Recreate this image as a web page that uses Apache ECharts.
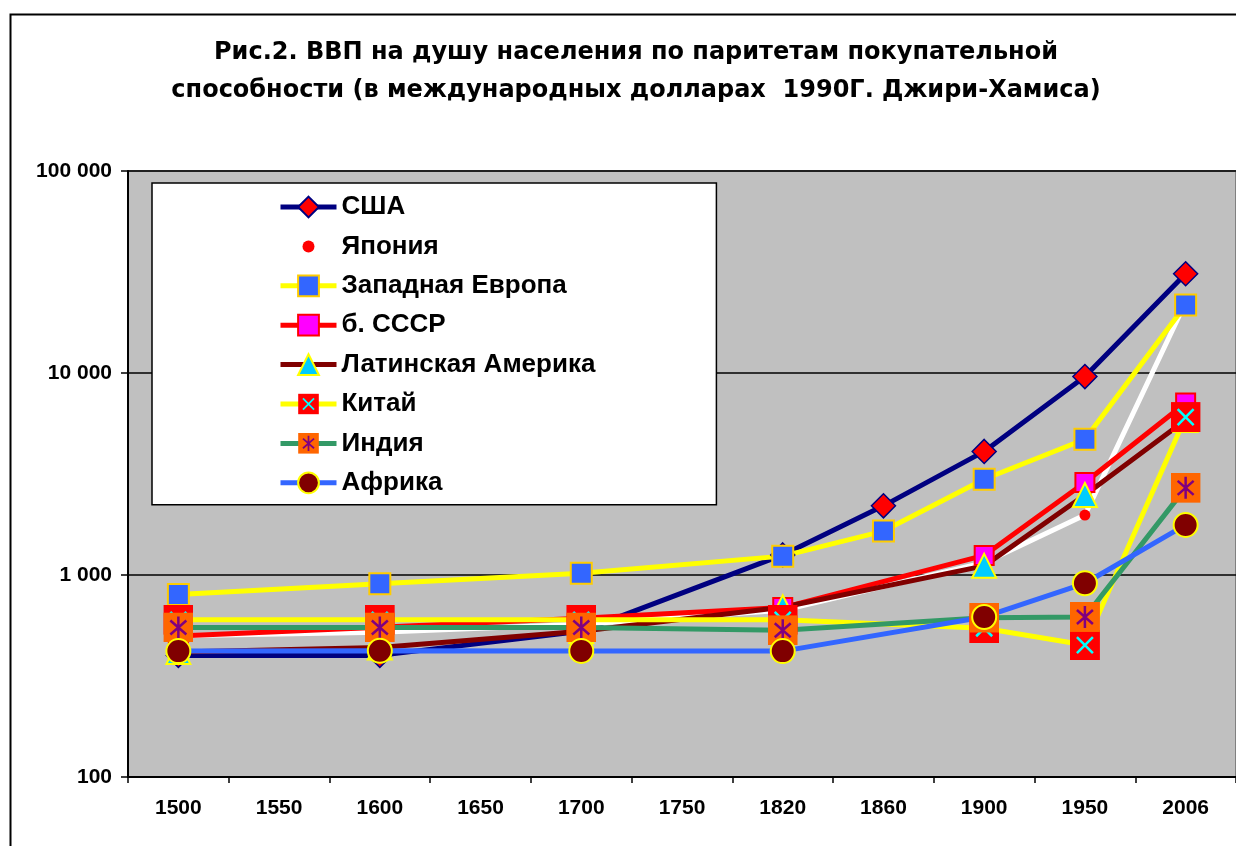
<!DOCTYPE html>
<html>
<head>
<meta charset="utf-8">
<script src="https://cdn.jsdelivr.net/npm/echarts@6/dist/echarts.min.js"></script>
<style>
    html, body {margin: 0; padding: 0; background: #fff;}
    #chart {width: 1236px; height: 846px;}
</style>
</head>
<body>
<div id="chart"></div>
<script>
// годы (1550, 1650, 1750 - без данных, 1860 - только США и Зап. Европа)
let years = ['1500', '1550', '1600', '1650', '1700', '1750', '1820', '1860', '1900', '1950', '2006'];
let usa = [400, null, 400, null, 527, null, 1257, 2200, 4091, 9600, 31000];
let japan = [500, null, 520, null, 570, null, 669, null, 1150, 1980, 22400];
let westEurope = [800, null, 905, null, 1020, null, 1240, 1650, 2980, 4700, 21700];
let ussr = [499, null, 552, null, 610, null, 690, null, 1250, 2870, 7100];
let latinAmerica = [416, null, 438, null, 527, null, 692, null, 1110, 2490, 5850];
let china = [600, null, 600, null, 600, null, 600, null, 545, 450, 6050];
let india = [550, null, 550, null, 550, null, 533, null, 615, 620, 2700];
let africa = [420, null, 422, null, 421, null, 420, null, 620, 910, 1770];

let names = ['США', 'Япония', 'Западная Европа', 'б. СССР', 'Латинская Америка', 'Китай', 'Индия', 'Африка'];

function svgIcon(svg) {
    return 'image://data:image/svg+xml;charset=utf-8,' + encodeURIComponent(svg);
}
let chinaIcon = svgIcon('<svg xmlns="http://www.w3.org/2000/svg" width="30" height="30" viewBox="0 0 30 30">' +
    '<rect x="0" y="0" width="30" height="30" fill="#FF0000"/>' +
    '<path d="M7 7 L23 23 M23 7 L7 23" stroke="#00FFFF" stroke-width="2.5"/></svg>');
let indiaIcon = svgIcon('<svg xmlns="http://www.w3.org/2000/svg" width="30" height="30" viewBox="0 0 30 30">' +
    '<rect x="0" y="0" width="30" height="30" fill="#FF6600"/>' +
    '<path d="M15 4 L15 26 M7 8 L23 22 M23 8 L7 22" stroke="#800080" stroke-width="2.5"/></svg>');

function ser(name, data, lineColor, symbol, size, fill, border, bw) {
    return {
        name: name, type: 'line', data: data, connectNulls: true,
        symbol: symbol, symbolSize: size, showAllSymbol: true,
        lineStyle: {color: lineColor, width: 5},
        itemStyle: {color: fill, borderColor: border, borderWidth: bw},
        emphasis: {disabled: true},
        animation: false
    };
}

let series = [
    ser(names[0], usa, '#000080', 'diamond', 24, '#FF0000', '#000080', 1.5),
    ser(names[1], japan, '#FFFFFF', 'circle', 11, '#FF0000', '#FF0000', 0),
    ser(names[2], westEurope, '#FFFF00', 'rect', 21, '#3366FF', '#FFCC00', 2),
    ser(names[3], ussr, '#FF0000', 'rect', 19, '#FF00FF', '#FF0000', 2),
    ser(names[4], latinAmerica, '#800000', 'triangle', 24, '#00CCFF', '#FFFF00', 2),
    ser(names[5], china, '#FFFF00', chinaIcon, 30, '#FF0000', '#FF0000', 0),
    ser(names[6], india, '#339966', indiaIcon, 30, '#FF6600', '#FF6600', 0),
    ser(names[7], africa, '#3366FF', 'circle', 24, '#800000', '#FFFF00', 2)
];

let legendData = names.map(function (n) {
    if (n === 'Япония') {
        // маленькая точка без линии
        return {name: n, icon: 'path://M0,0M26,26M7,13A6,6,0,1,1,19,13A6,6,0,1,1,7,13Z'};
    }
    return {name: n};
});

let fmt = function (v) {
    return String(v).replace(/\B(?=(\d{3})+(?!\d))/g, ' ');
};

let chart = echarts.init(document.getElementById('chart'), null, {renderer: 'canvas'});
chart.setOption({
    animation: false,
    backgroundColor: '#FFFFFF',
    textStyle: {fontFamily: 'Liberation Sans, Arial, sans-serif'},
    title: {
        text: 'Рис.2. ВВП на душу населения по паритетам покупательной\nспособности (в международных долларах  1990Г. Джири-Хамиса)',
        left: 631, top: 29, textAlign: 'center',
        textStyle: {fontSize: 24, fontWeight: 'bold', color: '#000', lineHeight: 38, fontFamily: 'DejaVu Sans'}
    },
    graphic: [
        {
            type: 'rect', left: 8, top: 12, z: -10,
            shape: {width: 1300, height: 900},
            style: {fill: 'none', stroke: '#000', lineWidth: 2}
        }
    ],
    legend: {
        data: legendData, orient: 'vertical', left: 152, top: 183,
        padding: [11, 121, 9, 126], itemGap: 13.4, itemWidth: 56, itemHeight: 26,
        backgroundColor: '#FFFFFF', borderColor: '#000', borderWidth: 1.5,
        lineStyle: {width: 5},
        textStyle: {fontSize: 26, lineHeight: 26, fontWeight: 'bold', color: '#000'},
        selectedMode: false
    },
    grid: {
        left: 128, top: 171, width: 1111, height: 606, show: true,
        backgroundColor: '#C0C0C0', borderColor: '#808080', borderWidth: 2
    },
    xAxis: {
        type: 'category', data: years, boundaryGap: true,
        axisLine: {lineStyle: {color: '#000', width: 2}},
        axisTick: {show: true, interval: 0, length: 6, lineStyle: {color: '#000', width: 1.5}},
        axisLabel: {interval: 0, margin: 21, fontSize: 21, fontWeight: 'bold', color: '#000'},
        splitLine: {show: false}
    },
    yAxis: {
        type: 'log', logBase: 10, min: 100, max: 100000,
        axisLine: {show: true, lineStyle: {color: '#000', width: 2}},
        axisTick: {show: true, length: 7, lineStyle: {color: '#000', width: 1.5}},
        axisLabel: {margin: 16, fontSize: 21, fontWeight: 'bold', color: '#000', formatter: fmt},
        splitLine: {show: true, lineStyle: {color: '#000', width: 1.5}},
        minorTick: {show: false}
    },
    series: series
});
</script>
</body>
</html>
